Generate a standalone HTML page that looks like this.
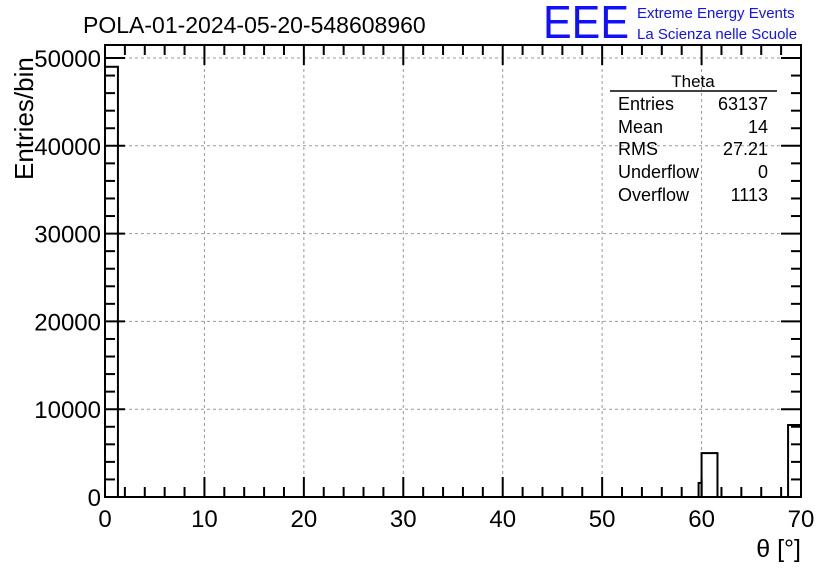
<!DOCTYPE html>
<html><head><meta charset="utf-8"><style>
body{margin:0;background:#fff;}
svg{display:block;font-family:"Liberation Sans",sans-serif;}
</style></head><body>
<svg width="836" height="572" viewBox="0 0 836 572">
<g id="grid"></g>
<g id="bars"></g>
<g id="ticks"></g>
<rect x="105" y="45" width="696" height="452" fill="none" stroke="#000" stroke-width="2"/>
<text x="83" y="33" font-size="23">POLA-01-2024-05-20-548608960</text>
<text x="543" y="38" font-size="46" fill="#1010ff" textLength="86" lengthAdjust="spacingAndGlyphs">EEE</text>
<text x="637" y="18" font-size="15" fill="#1010ff">Extreme Energy Events</text>
<text x="637" y="39" font-size="15" fill="#1010ff">La Scienza nelle Scuole</text>
<text transform="translate(33,180) rotate(-90)" font-size="26">Entries/bin</text>
<text x="801" y="557" font-size="25" text-anchor="end">θ [°]</text>
<g>
<text x="693" y="87" font-size="17" text-anchor="middle">Theta</text>
<line x1="610" y1="91" x2="777" y2="91" stroke="#000" stroke-width="1.5"/>
<g font-size="18">
<text x="618" y="110">Entries</text><text x="768" y="110" text-anchor="end">63137</text>
<text x="618" y="133">Mean</text><text x="768" y="133" text-anchor="end">14</text>
<text x="618" y="155">RMS</text><text x="768" y="155" text-anchor="end">27.21</text>
<text x="618" y="178">Underflow</text><text x="768" y="178" text-anchor="end">0</text>
<text x="618" y="201">Overflow</text><text x="768" y="201" text-anchor="end">1113</text>
</g></g>
<g id="labels"></g>
</svg>
<script>
const binLo = [0, 59.7, 60, 68.7];
const binHi = [1.3, 60, 61.6, 70];
const counts = [49000, 1600, 5000, 8200];
const xTicks = [0,10,20,30,40,50,60,70];
const yTicks = [0,10000,20000,30000,40000,50000];
const NS='http://www.w3.org/2000/svg';
const X0=105,X1=801,Y0=497,Y50=58;
const xs=v=>X0+(X1-X0)*v/70;
const ys=v=>Y0-(Y0-Y50)*v/50000;
function mk(tag,attrs,parent){const e=document.createElementNS(NS,tag);for(const k in attrs)e.setAttribute(k,attrs[k]);parent.appendChild(e);return e;}
const grid=document.getElementById('grid'),bars=document.getElementById('bars'),ticks=document.getElementById('ticks'),labels=document.getElementById('labels');
xTicks.forEach(t=>{
 if(t>0&&t<70){const l=mk('line',{x1:xs(t),x2:xs(t),y1:45,y2:497,stroke:'#999','stroke-dasharray':'3,3','stroke-width':1},grid);
 
 }
 const tx=mk('text',{x:xs(t),y:527,'font-size':24,'text-anchor':'middle'},labels);tx.textContent=t;
 
 
});
yTicks.forEach(t=>{
 if(t>0){const l=mk('line',{x1:105,x2:801,y1:ys(t),y2:ys(t),stroke:'#999','stroke-dasharray':'3,3','stroke-width':1},grid);
 
 }
 const tx=mk('text',{x:101,y:ys(t)+9,'font-size':24,'text-anchor':'end'},labels);tx.textContent=t;
 
 
});
for(let v=0;v<=70;v+=2){const L=(v%10===0)?20:10;
 mk('line',{x1:xs(v),x2:xs(v),y1:497,y2:497-L,stroke:'#000','stroke-width':2},ticks);
 mk('line',{x1:xs(v),x2:xs(v),y1:45,y2:45+L,stroke:'#000','stroke-width':2},ticks);}
for(let v=0;v<=50000;v+=2000){const L=(v%10000===0)?20:10;
 mk('line',{x1:105,x2:105+L,y1:ys(v),y2:ys(v),stroke:'#000','stroke-width':2},ticks);
 mk('line',{x1:801,x2:801-L,y1:ys(v),y2:ys(v),stroke:'#000','stroke-width':2},ticks);}
counts.forEach((c,i)=>{
 const r=mk('rect',{x:xs(binLo[i]),y:ys(c),width:xs(binHi[i])-xs(binLo[i]),height:Y0-ys(c),fill:'none',stroke:'#000','stroke-width':2},bars);
 
 
});
</script>
</body></html>
